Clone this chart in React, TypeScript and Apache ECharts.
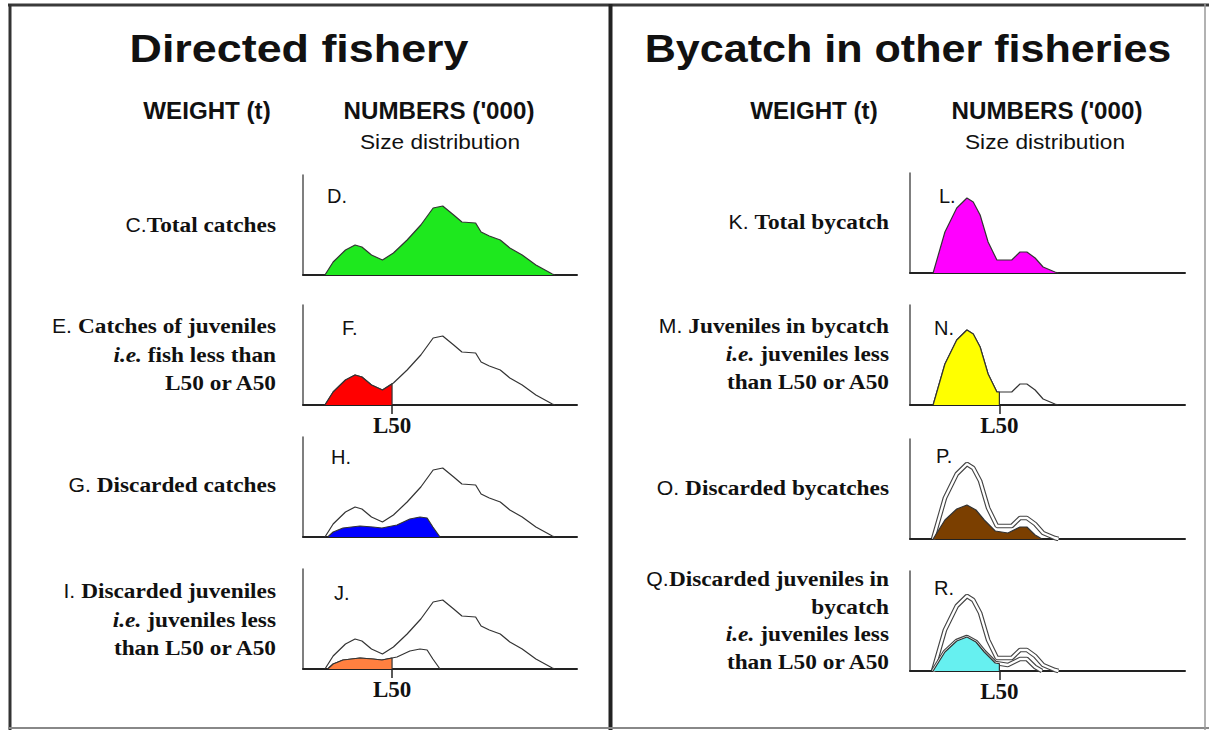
import React, { useEffect, useRef } from "react";
import * as echarts from "echarts";

// ---- data (x: size class 0-100, y: relative numbers 0-100) ----
const L50 = 32.5;
const totalCatch: number[][] = [
  [8, 0], [11, 13], [15.5, 25], [19, 30], [21.5, 28], [25, 20], [29, 15], [33, 22],
  [38, 35], [43, 50], [47.5, 67], [51, 69], [55, 60], [58, 53], [63, 52], [65, 43],
  [68, 39], [72, 35], [75.5, 27], [80, 20], [85, 10], [91, 1], [92, 0],
];
const discardCatch: number[][] = [
  [9, 0], [11, 5], [14.6, 9], [20.8, 11], [25.5, 10], [28.8, 9], [34.3, 12],
  [39, 18], [42.7, 20], [45.3, 19], [47.4, 10], [50, 0],
];
const totalBycatch: number[][] = [
  [8.4, 0], [12.7, 41], [17, 65], [20.7, 75], [23, 71], [25.5, 58], [28.4, 31],
  [31.6, 13], [37, 13], [40, 21], [42.5, 21], [45.5, 15], [48.4, 6], [52.7, 1], [54, 0],
];
const discardBycatch: number[][] = [
  [8.4, 0], [12.7, 19], [17, 30], [20.7, 34], [24, 29], [27, 19], [31, 8],
  [35.6, 6], [40, 12], [42.5, 12], [45.5, 4], [48, 0],
];

const SANS = "'Liberation Sans', Arial, sans-serif";
const SERIF = "'Liberation Serif', 'Times New Roman', serif";
const INK = "#111";

// part of a curve below L50, closed by a vertical drop at L50
function belowL50(data: number[][]): number[][] {
  const out: number[][] = [];
  for (let i = 0; i < data.length; i++) {
    const [x, y] = data[i];
    if (x < L50) out.push([x, y]);
    else {
      const [x0, y0] = data[i - 1];
      const t = (L50 - x0) / (x - x0);
      out.push([L50, y0 + t * (y - y0)]);
      break;
    }
  }
  out.push([L50, 0]);
  return out;
}

type Panel = { left: number; top: number; width: number; l50: boolean };
const panels: Panel[] = [
  { left: 303, top: 175, width: 274, l50: false }, // D
  { left: 303, top: 305, width: 274, l50: true }, // F
  { left: 303, top: 437, width: 274, l50: false }, // H
  { left: 303, top: 569, width: 274, l50: true }, // J
  { left: 910, top: 173, width: 275, l50: false }, // L
  { left: 910, top: 305, width: 275, l50: true }, // N
  { left: 910, top: 439, width: 275, l50: false }, // P
  { left: 910, top: 571, width: 275, l50: true }, // R
];

function area(g: number, data: number[][], fill: string, z = 3) {
  return {
    type: "line", xAxisIndex: g, yAxisIndex: g, data, symbol: "none", z,
    lineStyle: { color: "#333", width: 1.2 },
    areaStyle: { color: fill, opacity: 1 },
  };
}
function outline(g: number, data: number[][], z = 2) {
  return {
    type: "line", xAxisIndex: g, yAxisIndex: g, data, symbol: "none", z,
    lineStyle: { color: "#333", width: 1.2 },
  };
}
function doubleOutline(g: number, data: number[][], z = 2) {
  return [
    { type: "line", xAxisIndex: g, yAxisIndex: g, data, symbol: "none", z, lineStyle: { color: "#444", width: 4.6 } },
    { type: "line", xAxisIndex: g, yAxisIndex: g, data, symbol: "none", z: z + 0.1, lineStyle: { color: "#fff", width: 2.4 } },
  ];
}

function txt(x: number, y: number, text: string, font: any, extra: any = {}) {
  return {
    type: "text", x, y, ...extra,
    style: { text, fill: INK, align: "center", verticalAlign: "middle", ...font },
  };
}
const richStyles = {
  a: { fontFamily: SANS, fontSize: 20, color: INK, align: "right" },
  b: { fontFamily: SERIF, fontSize: 22, fontWeight: "bold", color: INK, align: "right" },
  i: { fontFamily: SERIF, fontSize: 22, fontWeight: "bold", fontStyle: "italic", color: INK, align: "right" },
};
function label(x: number, y: number, text: string) {
  return {
    type: "text", x, y, scaleX: 1.06,
    style: { text, align: "right", verticalAlign: "middle", rich: richStyles, fill: INK },
  };
}

export default function App() {
  const ref = useRef<HTMLDivElement>(null);
  useEffect(() => {
    if (!ref.current) return;
    const chart = echarts.init(ref.current, null, { renderer: "svg" });

    const grid = panels.map((p) => ({ left: p.left, top: p.top, width: p.width, height: 100 }));
    const xAxis = panels.map((p, i) => ({
      gridIndex: i, type: "value", min: 0, max: 100,
      axisLine: { show: true, onZero: false, lineStyle: { color: "#222", width: 2 } },
      axisTick: p.l50
        ? { show: true, customValues: [L50], length: 9, lineStyle: { color: "#222", width: 1.5 } }
        : { show: false },
      axisLabel: p.l50
        ? {
            show: true, customValues: [L50], formatter: () => "L50", margin: 9,
            fontFamily: SERIF, fontWeight: "bold", fontSize: 23, color: INK,
          }
        : { show: false },
      splitLine: { show: false },
    }));
    const yAxis = panels.map((_, i) => ({
      gridIndex: i, type: "value", min: 0, max: 100,
      axisLine: { show: true, lineStyle: { color: "#555", width: 1.5 } },
      axisTick: { show: false }, axisLabel: { show: false }, splitLine: { show: false },
    }));

    const series: any[] = [
      // D total catches
      area(0, totalCatch, "#1ee81e"),
      // F juveniles
      outline(1, totalCatch),
      area(1, belowL50(totalCatch), "#ff0000"),
      // H discards
      outline(2, totalCatch),
      area(2, discardCatch, "#0000ff"),
      // J discarded juveniles
      outline(3, totalCatch),
      outline(3, discardCatch),
      area(3, belowL50(discardCatch), "#ff8040"),
      // L total bycatch
      area(4, totalBycatch, "#ff00ff"),
      // N juveniles in bycatch
      outline(5, totalBycatch),
      area(5, belowL50(totalBycatch), "#ffff00"),
      // P discarded bycatch
      ...doubleOutline(6, totalBycatch),
      area(6, discardBycatch, "#7b3f00", 4),
      // R discarded juveniles in bycatch
      ...doubleOutline(7, totalBycatch),
      ...doubleOutline(7, discardBycatch, 3),
      area(7, belowL50(discardBycatch), "#66f0f0", 5),
    ];

    const head = { fontFamily: SANS, fontWeight: "bold", fontSize: 23 };
    const sub = { fontFamily: SANS, fontSize: 21 };
    const title = { fontFamily: SANS, fontWeight: "bold", fontSize: 39 };
    const letter = { fontFamily: SANS, fontSize: 20, align: "left" };

    const graphic: any[] = [
      // frame
      { type: "line", shape: { x1: 8, y1: 5, x2: 1209, y2: 5 }, style: { stroke: "#3a3a3a", lineWidth: 3 } },
      { type: "line", shape: { x1: 10, y1: 4, x2: 10, y2: 730 }, style: { stroke: "#333", lineWidth: 3 } },
      { type: "line", shape: { x1: 610.5, y1: 4, x2: 610.5, y2: 730 }, style: { stroke: "#222", lineWidth: 4 } },
      { type: "line", shape: { x1: 8, y1: 728, x2: 1209, y2: 728 }, style: { stroke: "#888", lineWidth: 2 } },
      { type: "line", shape: { x1: 1205, y1: 4, x2: 1205, y2: 730 }, style: { stroke: "#999", lineWidth: 1.5 } },
      // titles and headers
      txt(299, 49, "Directed fishery", title, { scaleX: 1.15 }),
      txt(908, 49, "Bycatch in other fisheries", title, { scaleX: 1.105 }),
      txt(207, 111, "WEIGHT (t)", head, { scaleX: 1.05 }),
      txt(439, 111, "NUMBERS ('000)", head, { scaleX: 1.05 }),
      txt(440, 142, "Size distribution", sub, { scaleX: 1.08 }),
      txt(814, 111, "WEIGHT (t)", head, { scaleX: 1.05 }),
      txt(1047, 111, "NUMBERS ('000)", head, { scaleX: 1.05 }),
      txt(1045, 142, "Size distribution", sub, { scaleX: 1.08 }),
      // panel letters
      txt(327, 196, "D.", letter),
      txt(342, 328, "F.", letter),
      txt(331, 457, "H.", letter),
      txt(334, 593, "J.", letter),
      txt(939, 196, "L.", letter),
      txt(934, 328, "N.", letter),
      txt(936, 456, "P.", letter),
      txt(934, 588, "R.", letter),
      // left labels
      label(276, 225, "{a|C.}{b|Total catches}"),
      label(276, 326, "{a|E.}{b| Catches of juveniles}"),
      label(276, 355, "{i|i.e.}{b| fish less than}"),
      label(276, 383, "{b|L50 or A50}"),
      label(276, 485, "{a|G.}{b| Discarded catches}"),
      label(276, 591, "{a|I.}{b| Discarded juveniles}"),
      label(276, 619.5, "{i|i.e.}{b| juveniles less}"),
      label(276, 648, "{b|than L50 or A50}"),
      // right labels
      label(889, 222, "{a|K.}{b| Total bycatch}"),
      label(889, 326, "{a|M.}{b| Juveniles in bycatch}"),
      label(889, 354, "{i|i.e.}{b| juveniles less}"),
      label(889, 382, "{b|than L50 or A50}"),
      label(889, 488, "{a|O.}{b| Discarded bycatches}"),
      label(889, 579, "{a|Q.}{b|Discarded juveniles in}"),
      label(889, 607, "{b|bycatch}"),
      label(889, 634, "{i|i.e.}{b| juveniles less}"),
      label(889, 662, "{b|than L50 or A50}"),
    ];

    chart.setOption({
      animation: false,
      backgroundColor: "#fff",
      grid, xAxis, yAxis, series, graphic,
    } as any);
    return () => chart.dispose();
  }, []);
  return (
    <div
      ref={ref}
      style={{ position: "absolute", left: 0, top: 0, width: 1209, height: 730, background: "#fff" }}
    />
  );
}
